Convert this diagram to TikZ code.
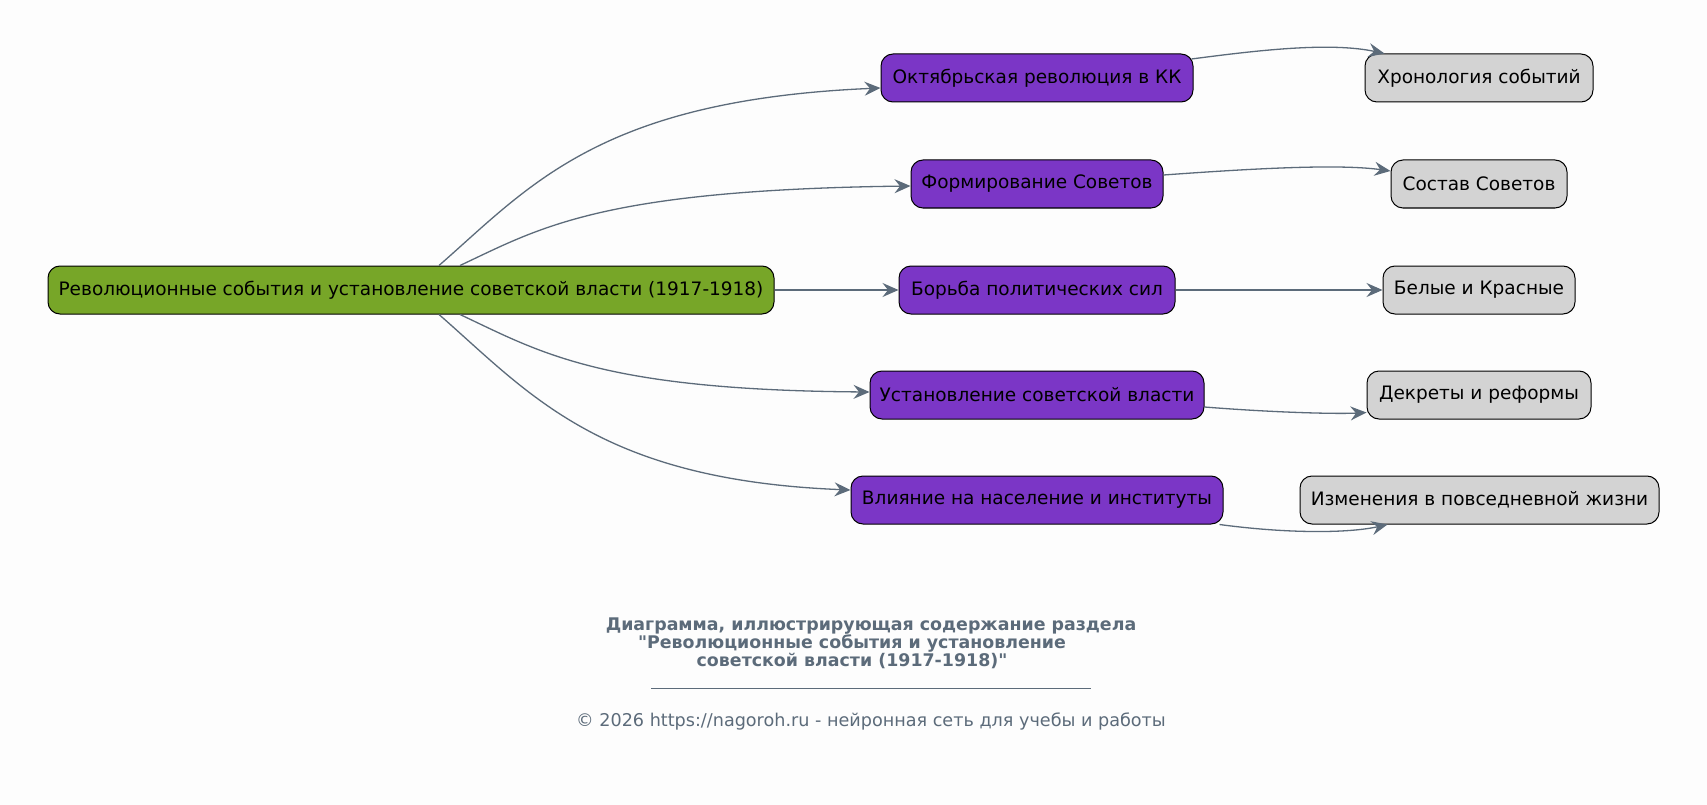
\documentclass[tikz,border=0pt]{standalone}
\usepackage{fontspec}
\setmainfont{DejaVu Sans}
\newfontfamily\plainfont{DejaVu Sans}
\usetikzlibrary{arrows.meta}
\definecolor{bgc}{HTML}{FDFDFD}
\definecolor{greenc}{HTML}{77A628}
\definecolor{purplec}{HTML}{7B36C6}
\definecolor{grayc}{HTML}{D3D3D3}
\definecolor{edgec}{HTML}{5C6B7A}
\tikzset{
  box/.style={draw=black, line width=1pt, rounded corners=12pt, minimum height=48pt, inner sep=0pt, font=\fontsize{18.5}{22}\selectfont, text=black},
  rootbox/.style={box, fill=greenc},
  midbox/.style={box, fill=purplec},
  leafbox/.style={box, fill=grayc},
  conn/.style={draw=edgec, line width=1.3pt, -{Stealth[length=16pt,width=14pt,inset=5.5pt]}},
  titletext/.style={text=edgec, font=\plainfont\fontsize{17.4}{20}\selectfont\bfseries, inner sep=0pt},
  foottext/.style={text=edgec, font=\fontsize{17.6}{20}\selectfont, inner sep=0pt}
}
\begin{document}
\begin{tikzpicture}[x=1pt,y=-1pt]
\fill[bgc] (0,0) rectangle (1707,805);
\useasboundingbox (0,0) rectangle (1707,805);

\node[rootbox, minimum width=726pt] (G) at (411,290) {Революционные события и установление советской власти (1917-1918)};

\node[midbox, minimum width=312pt] (O1) at (1037,78) {Октябрьская революция в КК};
\node[midbox, minimum width=252pt] (O2) at (1037,184) {Формирование Советов};
\node[midbox, minimum width=276pt] (O3) at (1037,290) {Борьба политических сил};
\node[midbox, minimum width=334pt] (O4) at (1037,395) {Установление советской власти};
\node[midbox, minimum width=372pt] (O5) at (1037,500) {Влияние на население и институты};

\node[leafbox, minimum width=228pt] (R1) at (1479,78) {Хронология событий};
\node[leafbox, minimum width=176pt] (R2) at (1479,184) {Состав Советов};
\node[leafbox, minimum width=192pt] (R3) at (1479,290) {Белые и Красные};
\node[leafbox, minimum width=224pt] (R4) at (1479,395) {Декреты и реформы};
\node[leafbox, minimum width=359pt] (R5) at (1479.5,500) {Изменения в повседневной жизни};

\draw[conn] ([xshift=28pt]G.north) .. controls (530,186) and (600,100) .. ([yshift=-10pt]O1.west);
\draw[conn] ([xshift=49pt]G.north) .. controls (540,228) and (600,190) .. ([yshift=-2pt]O2.west);
\draw[conn] (G.east) -- (O3.west);
\draw[conn] ([xshift=49pt]G.south) .. controls (540,352) and (600,390) .. ([yshift=3pt]O4.west);
\draw[conn] ([xshift=28pt]G.south) .. controls (530,394) and (600,480) .. ([yshift=10pt]O5.west);

\draw[conn] ([xshift=-2pt,yshift=19pt]O1.east) .. controls (1260,50) and (1330,42) .. ([xshift=20pt]R1.north west);
\draw[conn] ([yshift=9pt]O2.east) .. controls (1260,168) and (1340,164) .. ([yshift=13pt]R2.west);
\draw[conn] (O3.east) -- (R3.west);
\draw[conn] ([yshift=-12pt]O4.east) .. controls (1280,413) and (1340,414) .. ([yshift=7pt]R4.south west);
\draw[conn] ([xshift=-4pt]O5.south east) .. controls (1290,534) and (1350,533) .. ([xshift=88pt]R5.south west);

\node[titletext] (T1) at (871,626) {Диаграмма, иллюстрирующая содержание раздела};
\node[titletext] (T2) at (852,643) {"Революционные события и установление};
\node[titletext] (T3) at (852,661) {советской власти (1917-1918)"};
\draw[edgec, line width=0.8pt] (651,688) -- (1091,688);
\node[foottext] (F) at (871,721) {© 2026 https://nagoroh.ru - нейронная сеть для учебы и работы};
\end{tikzpicture}
\end{document}
